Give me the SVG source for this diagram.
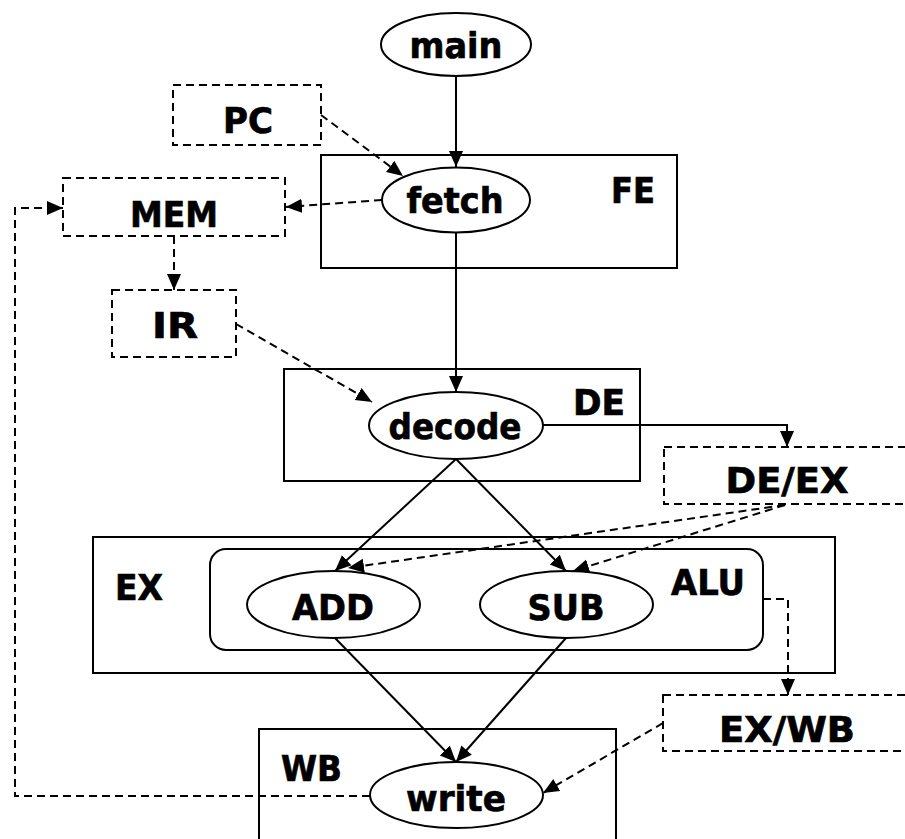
<svg xmlns="http://www.w3.org/2000/svg" width="905" height="839" viewBox="0 0 905 839">
  <style>
    .box { fill: #fff; stroke: #000; stroke-width: 2; }
    .reg { fill: #fff; stroke: #000; stroke-width: 2; stroke-dasharray: 8 5; }
    .fn { fill: #fff; stroke: #000; stroke-width: 2; }
    .lbl { font-family: "DejaVu Sans", Verdana, sans-serif; font-weight: bold; font-size: 36px; fill: #000; stroke: #000; stroke-width: 0.7; }
    .mid { text-anchor: middle; }
    .solid { fill: none; stroke: #000; stroke-width: 2; }
    .dash { fill: none; stroke: #000; stroke-width: 2; stroke-dasharray: 8 5; }
  </style>
  <defs>
    <marker id="arrow" markerUnits="userSpaceOnUse" markerWidth="17" markerHeight="15" refX="16" refY="7" orient="auto">
      <path d="M0,0 L16,7 L0,14 z" fill="#000" stroke="none"/>
    </marker>
  </defs>

  <!-- pipeline stage containers -->
  <g id="stage-fe">
    <rect class="box" x="321" y="155" width="356" height="113"/>
    <text class="lbl" x="611" y="203" textLength="44" lengthAdjust="spacingAndGlyphs">FE</text>
  </g>
  <g id="stage-de">
    <rect class="box" x="284" y="369" width="356" height="112"/>
    <text class="lbl" x="573" y="415" textLength="52" lengthAdjust="spacingAndGlyphs">DE</text>
  </g>
  <g id="stage-ex">
    <rect class="box" x="93" y="537" width="742" height="136"/>
    <text class="lbl" x="115" y="600" textLength="48" lengthAdjust="spacingAndGlyphs">EX</text>
  </g>
  <g id="alu">
    <rect class="box" x="210" y="549" width="553" height="101" rx="16" ry="16"/>
    <text class="lbl" x="671" y="595" textLength="74" lengthAdjust="spacingAndGlyphs">ALU</text>
  </g>
  <g id="stage-wb">
    <rect class="box" x="259" y="729" width="357" height="120"/>
    <text class="lbl" x="281" y="781" textLength="61" lengthAdjust="spacingAndGlyphs">WB</text>
  </g>

  <!-- registers and memory -->
  <g id="pc">
    <rect class="reg" x="173" y="85" width="148" height="60"/>
    <text class="lbl mid" x="248" y="133" textLength="50" lengthAdjust="spacingAndGlyphs">PC</text>
  </g>
  <g id="mem">
    <rect class="reg" x="63" y="178" width="222" height="58"/>
    <text class="lbl mid" x="174" y="227" textLength="88" lengthAdjust="spacingAndGlyphs">MEM</text>
  </g>
  <g id="ir">
    <rect class="reg" x="112" y="290" width="124" height="67"/>
    <text class="lbl mid" x="175" y="338" textLength="46" lengthAdjust="spacingAndGlyphs">IR</text>
  </g>
  <g id="de-ex">
    <rect class="reg" x="664" y="447" width="260" height="57"/>
    <text class="lbl mid" x="787" y="493" textLength="123" lengthAdjust="spacingAndGlyphs">DE/EX</text>
  </g>
  <g id="ex-wb">
    <rect class="reg" x="663" y="695" width="260" height="56"/>
    <text class="lbl mid" x="787" y="742" textLength="136" lengthAdjust="spacingAndGlyphs">EX/WB</text>
  </g>

  <!-- functions -->
  <g id="main">
    <ellipse class="fn" cx="456" cy="44.5" rx="75" ry="31.5"/>
    <text class="lbl mid" x="456" y="58" textLength="93" lengthAdjust="spacingAndGlyphs">main</text>
  </g>
  <g id="fetch">
    <ellipse class="fn" cx="456" cy="200" rx="74" ry="32.5"/>
    <text class="lbl mid" x="455" y="213" textLength="97" lengthAdjust="spacingAndGlyphs">fetch</text>
  </g>
  <g id="decode">
    <ellipse class="fn" cx="456" cy="425.5" rx="87" ry="33.5"/>
    <text class="lbl mid" x="455" y="439" font-size="38" textLength="133" lengthAdjust="spacingAndGlyphs">decode</text>
  </g>
  <g id="add">
    <ellipse class="fn" cx="333.5" cy="604.5" rx="86.5" ry="33.5"/>
    <text class="lbl mid" x="333" y="620" font-size="37" textLength="82" lengthAdjust="spacingAndGlyphs">ADD</text>
  </g>
  <g id="sub">
    <ellipse class="fn" cx="566.5" cy="604.5" rx="86.5" ry="33.5"/>
    <text class="lbl mid" x="566" y="620" font-size="37" textLength="77" lengthAdjust="spacingAndGlyphs">SUB</text>
  </g>
  <g id="write">
    <ellipse class="fn" cx="456.5" cy="795" rx="86.5" ry="33"/>
    <text class="lbl mid" x="456" y="811" font-size="40" textLength="100" lengthAdjust="spacingAndGlyphs">write</text>
  </g>

  <!-- connectors -->
  <g id="connectors">
    <!-- control flow -->
    <path class="solid" d="M456,76 V167" marker-end="url(#arrow)"/>
    <path class="solid" d="M456,232.5 V392" marker-end="url(#arrow)"/>
    <path class="solid" d="M456,459 L335,571" marker-end="url(#arrow)"/>
    <path class="solid" d="M456,459 L566,571" marker-end="url(#arrow)"/>
    <path class="solid" d="M335,638 L456,762" marker-end="url(#arrow)"/>
    <path class="solid" d="M566,638 L456,762" marker-end="url(#arrow)"/>
    <path class="solid" d="M543,425 H787 V447" marker-end="url(#arrow)"/>
    <!-- data flow -->
    <path class="dash" d="M321,115 L403,176" marker-end="url(#arrow)"/>
    <path class="dash" d="M382,200 L286,207" marker-end="url(#arrow)"/>
    <path class="dash" d="M174,236 V290" marker-end="url(#arrow)"/>
    <path class="dash" d="M236,324 L372,402" marker-end="url(#arrow)"/>
    <path class="dash" d="M785,505 L348,568" marker-end="url(#arrow)"/>
    <path class="dash" d="M785,505 L573,571" marker-end="url(#arrow)"/>
    <path class="dash" d="M763,599 H788 V695" marker-end="url(#arrow)"/>
    <path class="dash" d="M663,723 L543,793" marker-end="url(#arrow)"/>
    <path class="dash" d="M370,796 H15 V208 H63" marker-end="url(#arrow)"/>
  </g>
</svg>
